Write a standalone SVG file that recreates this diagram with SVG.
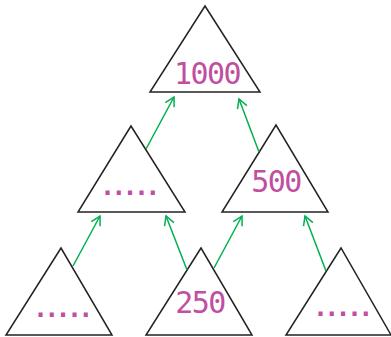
<svg xmlns="http://www.w3.org/2000/svg" width="391" height="337" viewBox="0 0 391 337">
<style>
.tri{fill:#fff;stroke:#222;stroke-width:1.5;stroke-linejoin:miter}
.lbl{font-family:"DejaVu Sans Mono",monospace;font-size:30px;fill:#c04fa0;text-anchor:middle;letter-spacing:-1.5px}
.dots{font-family:"DejaVu Sans Mono",monospace;font-weight:bold;font-size:25px;fill:#c04fa0;letter-spacing:-3.75px}
.arr{stroke:#00b050;stroke-width:1.5;fill:none;marker-end:url(#ah)}
</style>
<defs>
<marker id="ah" markerUnits="userSpaceOnUse" viewBox="-10 -6 12 12" refX="0" refY="0" markerWidth="12" markerHeight="12" orient="auto">
<path d="M-9,-5 L0,0 L-9,5" fill="none" stroke="#00b050" stroke-width="1.5"/>
</marker>
</defs>
<rect width="391" height="337" fill="#fff"/>
<g id="n1000">
<polygon class="tri" points="205,6 150,92 260,92"/>
<text class="lbl" x="207" y="84">1000</text>
</g>
<g id="nmidleft">
<polygon class="tri" points="131,126 78,212 185,212"/>
<text class="dots" x="100" y="195">.....</text>
</g>
<g id="n500">
<polygon class="tri" points="276,125 222,212 328,212"/>
<text class="lbl" x="276" y="192">500</text>
</g>
<g id="nbotleft">
<polygon class="tri" points="61,248 6,335 112,335"/>
<text class="dots" x="33" y="317">.....</text>
</g>
<g id="n250">
<polygon class="tri" points="201,248 146,335 252,335"/>
<text class="lbl" x="200" y="313">250</text>
</g>
<g id="nbotright">
<polygon class="tri" points="341,248 286,335 391,335"/>
<text class="dots" x="313" y="316">.....</text>
</g>
<g id="connectors">
<line class="arr" x1="73" y1="266" x2="100" y2="216"/>
<line class="arr" x1="187" y1="270" x2="166" y2="216"/>
<line class="arr" x1="214" y1="268" x2="242" y2="216"/>
<line class="arr" x1="326" y1="271" x2="305" y2="216"/>
<line class="arr" x1="146" y1="149" x2="174" y2="97"/>
<line class="arr" x1="259" y1="152" x2="239" y2="99"/>
</g>
</svg>
